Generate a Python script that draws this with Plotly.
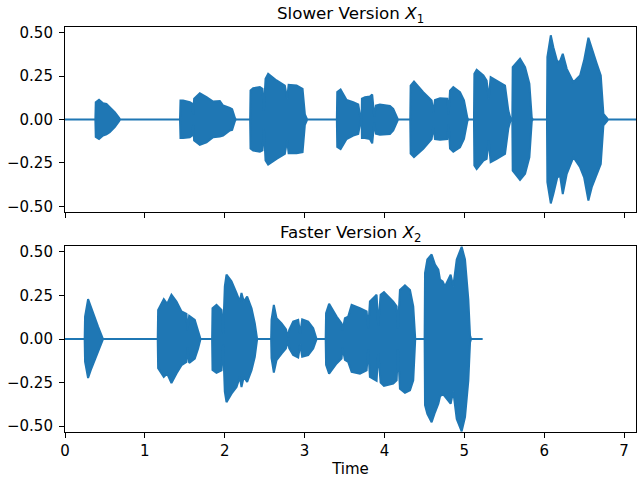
import plotly.graph_objects as go

# ---- Slower version X1: envelope of the waveform (time in s, upper / lower amplitude)
t_slow = [0.0, 0.38, 0.385, 0.426, 0.476, 0.519, 0.56, 0.623, 0.677, 0.69,
          1.44, 1.446, 1.479, 1.563, 1.596, 1.604, 1.617, 1.688, 1.772, 1.855, 1.939, 1.98, 2.064, 2.093, 2.127, 2.14,
          2.318, 2.323, 2.356, 2.44, 2.473, 2.49, 2.511, 2.544, 2.649, 2.753, 2.782, 2.8, 2.9, 2.975, 3.004, 3.033,
          3.404, 3.409, 3.451, 3.526, 3.609, 3.672, 3.693, 3.705,
          3.714, 3.718, 3.756, 3.818, 3.847, 3.872, 3.893, 3.943, 4.069, 4.11, 4.16, 4.17,
          4.323, 4.328, 4.37, 4.486, 4.591, 4.612, 4.633, 4.696, 4.787, 4.804, 4.821, 4.862, 4.946, 4.996, 5.038, 5.05,
          5.121, 5.126, 5.155, 5.239, 5.28, 5.305, 5.33, 5.406, 5.51, 5.552, 5.582,
          5.601, 5.606, 5.698, 5.761, 5.815, 5.845, 5.86,
          6.035, 6.04, 6.083, 6.115, 6.165, 6.199, 6.233, 6.283, 6.366, 6.45, 6.5, 6.554, 6.596, 6.659, 6.709, 6.742, 6.784, 6.8,
          7.15]
up_slow = [0.0, 0.0, 0.10, 0.114, 0.094, 0.09, 0.071, 0.042, 0.01, 0.0,
           0.0, 0.11, 0.11, 0.10, 0.09, 0.03, 0.12, 0.152, 0.129, 0.104, 0.106, 0.081, 0.067, 0.06, 0.01, 0.0,
           0.0, 0.167, 0.181, 0.187, 0.177, 0.05, 0.235, 0.264, 0.225, 0.196, 0.12, 0.20, 0.196, 0.177, 0.03, 0.0,
           0.0, 0.158, 0.173, 0.113, 0.10, 0.087, 0.03, 0.0,
           0.0, 0.12, 0.129, 0.133, 0.144, 0.02, 0.081, 0.087, 0.079, 0.062, 0.01, 0.0,
           0.0, 0.196, 0.219, 0.158, 0.11, 0.04, 0.113, 0.123, 0.12, 0.03, 0.167, 0.187, 0.158, 0.11, 0.01, 0.0,
           0.0, 0.264, 0.287, 0.254, 0.225, 0.12, 0.244, 0.225, 0.196, 0.05, 0.0,
           0.0, 0.302, 0.35, 0.302, 0.206, 0.01, 0.0,
           0.0, 0.36, 0.485, 0.417, 0.331, 0.337, 0.379, 0.292, 0.215, 0.254, 0.341, 0.471, 0.408, 0.321, 0.254, 0.033, 0.01, 0.0,
           0.0]
lo_slow = [0.0, 0.0, -0.10, -0.112, -0.092, -0.085, -0.073, -0.044, -0.01, 0.0,
           0.0, -0.106, -0.106, -0.102, -0.09, -0.03, -0.12, -0.146, -0.131, -0.102, -0.098, -0.092, -0.063, -0.06, -0.01, 0.0,
           0.0, -0.167, -0.179, -0.185, -0.177, -0.05, -0.235, -0.26, -0.227, -0.198, -0.12, -0.194, -0.194, -0.188, -0.03, 0.0,
           0.0, -0.158, -0.17, -0.112, -0.092, -0.083, -0.03, 0.0,
           0.0, -0.106, -0.106, -0.112, -0.137, -0.02, -0.081, -0.087, -0.083, -0.063, -0.01, 0.0,
           0.0, -0.196, -0.217, -0.169, -0.112, -0.04, -0.113, -0.117, -0.113, -0.03, -0.167, -0.185, -0.16, -0.112, -0.01, 0.0,
           0.0, -0.264, -0.285, -0.237, -0.227, -0.12, -0.246, -0.227, -0.198, -0.05, 0.0,
           0.0, -0.294, -0.348, -0.313, -0.217, -0.01, 0.0,
           0.0, -0.36, -0.483, -0.429, -0.333, -0.323, -0.429, -0.313, -0.217, -0.275, -0.333, -0.467, -0.39, -0.313, -0.256, -0.033, -0.01, 0.0,
           0.0]

# ---- Faster version X2
t_fast = [0.0, 0.246, 0.251, 0.289, 0.33, 0.372, 0.414, 0.456, 0.476,
          1.161, 1.166, 1.237, 1.279, 1.333, 1.396, 1.459, 1.521, 1.534, 1.555, 1.625, 1.667, 1.697,
          1.842, 1.847, 1.897, 1.96, 1.98, 2.001, 2.022, 2.085, 2.148, 2.189, 2.21, 2.239, 2.281, 2.336, 2.377, 2.406,
          2.581, 2.586, 2.615, 2.649, 2.712, 2.766, 2.795,
          2.807, 2.857, 2.92, 2.945, 2.97, 3.045, 3.108, 3.15,
          3.264, 3.269, 3.307, 3.401, 3.463, 3.476, 3.505, 3.546, 3.589, 3.693, 3.777, 3.797, 3.818, 3.881, 3.902, 3.922,
          3.952, 3.994, 4.11, 4.153, 4.169, 4.194, 4.257, 4.32, 4.361, 4.386,
          4.503, 4.508, 4.537, 4.591, 4.633, 4.675, 4.696, 4.729, 4.758, 4.829, 4.862, 4.905, 4.967, 5.009, 5.051, 5.072, 5.085,
          5.23]
up_fast = [0.0, 0.0, 0.129, 0.229, 0.177, 0.12, 0.071, 0.023, 0.0,
           0.0, 0.167, 0.229, 0.202, 0.254, 0.215, 0.158, 0.144, 0.05, 0.133, 0.11, 0.052, 0.0,
           0.0, 0.177, 0.196, 0.167, 0.03, 0.302, 0.369, 0.331, 0.264, 0.215, 0.264, 0.215, 0.244, 0.177, 0.09, 0.0,
           0.0, 0.11, 0.196, 0.12, 0.09, 0.056, 0.01,
           0.052, 0.10, 0.11, 0.03, 0.113, 0.10, 0.062, 0.0,
           0.0, 0.148, 0.202, 0.129, 0.09, 0.05, 0.12, 0.129, 0.196, 0.177, 0.158, 0.06, 0.215, 0.244, 0.254, 0.08,
           0.254, 0.269, 0.215, 0.187, 0.06, 0.281, 0.308, 0.281, 0.187, 0.0,
           0.0, 0.379, 0.456, 0.485, 0.427, 0.398, 0.341, 0.331, 0.302, 0.369, 0.302, 0.456, 0.529, 0.456, 0.225, 0.02, 0.0,
           0.0]
lo_fast = [0.0, 0.0, -0.129, -0.223, -0.169, -0.121, -0.063, -0.023, 0.0,
           0.0, -0.167, -0.217, -0.198, -0.252, -0.198, -0.15, -0.131, -0.05, -0.137, -0.112, -0.054, 0.0,
           0.0, -0.177, -0.194, -0.179, -0.03, -0.302, -0.362, -0.313, -0.275, -0.217, -0.275, -0.217, -0.246, -0.179, -0.102, 0.0,
           0.0, -0.11, -0.192, -0.121, -0.083, -0.054, -0.01,
           -0.052, -0.092, -0.106, -0.03, -0.102, -0.092, -0.054, 0.0,
           0.0, -0.148, -0.198, -0.14, -0.112, -0.05, -0.12, -0.131, -0.188, -0.198, -0.179, -0.06, -0.217, -0.235, -0.24, -0.08,
           -0.25, -0.269, -0.256, -0.237, -0.06, -0.285, -0.308, -0.294, -0.237, 0.0,
           0.0, -0.379, -0.429, -0.477, -0.42, -0.371, -0.33, -0.313, -0.333, -0.371, -0.30, -0.458, -0.529, -0.448, -0.237, -0.02, 0.0,
           0.0]

y_ticks = [-0.5, -0.25, 0.0, 0.25, 0.5]
y_tick_text = ["\u22120.50", "\u22120.25", "0.00", "0.25", "0.50"]
x_ticks = [0, 1, 2, 3, 4, 5, 6, 7]

BLUE = "#1f77b4"
FONT = "DejaVu Sans"

fig = go.Figure()
for t, up, lo, xa, ya in [(t_slow, up_slow, lo_slow, "x", "y"), (t_fast, up_fast, lo_fast, "x2", "y2")]:
    fig.add_trace(go.Scatter(
        x=list(t) + list(t[::-1]), y=list(up) + list(lo[::-1]),
        fill="toself", fillcolor=BLUE, mode="lines",
        line=dict(color=BLUE, width=2), xaxis=xa, yaxis=ya,
        hoverinfo="skip", showlegend=False))

axis_common = dict(showline=True, linecolor="black", linewidth=1.1, mirror=True,
                   ticks="outside", ticklen=5, tickwidth=1.1, tickcolor="black",
                   showgrid=False, zeroline=False,
                   tickfont=dict(family=FONT, size=15, color="black"))

fig.update_layout(
    width=640, height=480,
    margin=dict(l=65, r=4, t=27, b=48),
    plot_bgcolor="white", paper_bgcolor="white",
    xaxis=dict(domain=[0, 1], anchor="y", range=[0, 7.15], tickvals=x_ticks,
               showticklabels=False, matches="x2", **axis_common),
    yaxis=dict(domain=[0.543, 1], anchor="x", range=[-0.533, 0.533], ticklabelstandoff=3,
               tickvals=y_ticks, ticktext=y_tick_text, **axis_common),
    xaxis2=dict(domain=[0, 1], anchor="y2", range=[0, 7.15], tickvals=x_ticks,
                title=dict(text="Time", font=dict(family=FONT, size=15, color="black"), standoff=4),
                **axis_common),
    yaxis2=dict(domain=[0, 0.459], anchor="x2", range=[-0.533, 0.533], ticklabelstandoff=3,
                tickvals=y_ticks, ticktext=y_tick_text, **axis_common),
    annotations=[
        dict(text="Slower Version <i>X</i><sub>1</sub>", xref="paper", yref="paper",
             x=0.5, y=1.0, yshift=-1, xanchor="center", yanchor="bottom", showarrow=False,
             font=dict(family=FONT, size=16.7, color="black")),
        dict(text="Faster Version <i>X</i><sub>2</sub>", xref="paper", yref="paper",
             x=0.5, y=0.459, yshift=-1, xanchor="center", yanchor="bottom", showarrow=False,
             font=dict(family=FONT, size=16.7, color="black")),
    ],
)

fig.write_html("out.html")
